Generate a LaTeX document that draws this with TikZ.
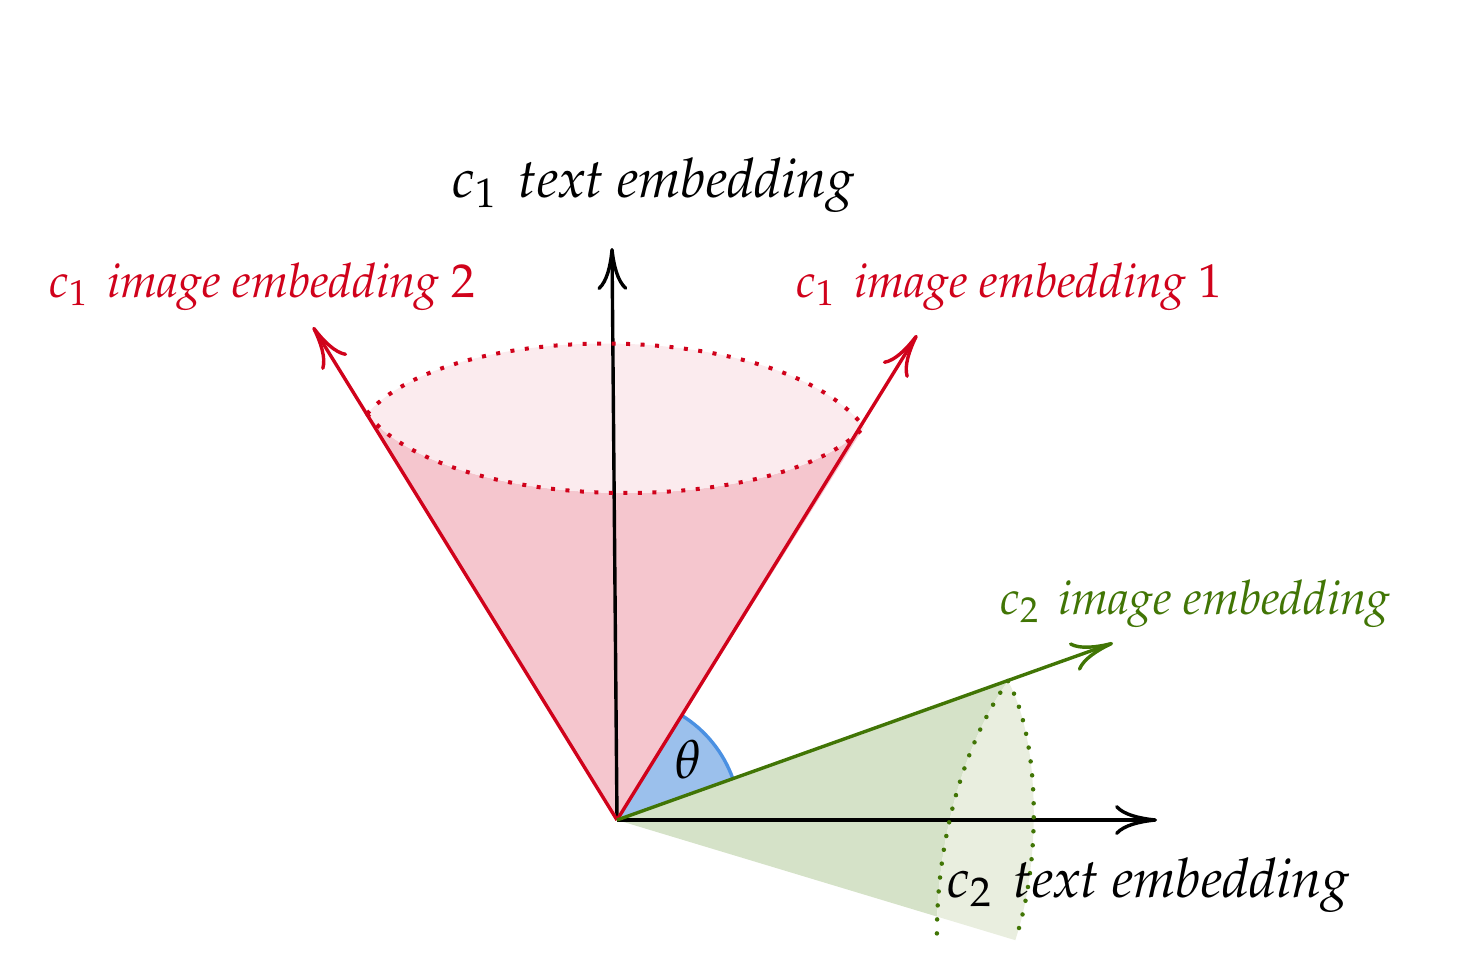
\documentclass[tikz,border=0pt]{standalone}
\usepackage[T1]{fontenc}
\usepackage{mathpazo}
\usetikzlibrary{arrows.meta}
\definecolor{cred}{HTML}{D0021B}
\definecolor{cpink}{HTML}{F5C6CE}
\definecolor{clpink}{HTML}{FBEBEE}
\definecolor{cgreen}{HTML}{417505}
\definecolor{cgfill}{HTML}{D5E2C8}
\definecolor{clgfill}{HTML}{E9EEDF}
\definecolor{cbfill}{HTML}{9BC0EC}
\definecolor{cbline}{HTML}{4A90E2}
\tikzset{
  axisline/.style={line width=3.4pt,-{Computer Modern Rightarrow[length=42pt,width=30pt]}},
  lbl/.style={inner sep=0pt,anchor=base,font=\fontsize{54.5}{60}\selectfont\itshape},
  clbl/.style={inner sep=0pt,anchor=base,font=\fontsize{47.5}{56}\selectfont\itshape},
  reddots/.style={cred,line width=4pt,dash pattern=on 4pt off 10.5pt},
  greendots/.style={cgreen,line width=4.5pt,line cap=round,dash pattern=on 0pt off 14pt},
}
\begin{document}
\begin{tikzpicture}[x=1pt,y=-1pt]
\useasboundingbox (0,0) rectangle (1463,979);
\coordinate (O) at (617,820);
\coordinate (T) at (612,248);
\coordinate (X) at (1157,820);
\coordinate (R1) at (917,335);
\coordinate (R2) at (313,327);
\coordinate (GT) at (1113,643);
\coordinate (L) at (367,414);
\coordinate (R) at (864,427);
\coordinate (G) at (1008,681);
\coordinate (GB) at (937,945);
\coordinate (GR) at (1015,941);
% pink cone
\fill[cpink] (O) -- (L) .. controls (450,517) and (780,517) .. (R) -- cycle;
\fill[clpink] (L) .. controls (450,318) and (780,318) .. (R) .. controls (780,517) and (450,517) .. (L) -- cycle;
% green cone
\begin{scope}
\clip (O) -- (1250,594) -- (1250,1011) -- cycle;
\fill[cgfill] (O) -- (G) .. controls (960,750) and (935,850) .. (GB) -- cycle;
\fill[clgfill] (G) .. controls (1040,740) and (1042,860) .. (GR) -- (1015,1000) -- (937,1000) -- (GB) .. controls (935,850) and (960,750) .. (G) -- cycle;
\end{scope}
% angle
\fill[cbfill] (O) -- ++(-19.64:123) arc[start angle=-19.64,end angle=-58.26,radius=123] -- cycle;
\draw[cbline,line width=3.4pt] (O) ++(-19.64:123) arc[start angle=-19.64,end angle=-58.26,radius=123];
\node[inner sep=0pt,font=\fontsize{54}{60}\selectfont] (th) at (688,760) {$\theta$};
% axes
\draw[axisline] (O) -- (T);
\draw[axisline] (O) -- (X);
\draw[axisline,cred] (O) -- (R1);
\draw[axisline,cred] (O) -- (R2);
\draw[axisline,cgreen] (O) -- (GT);
% dotted lens
\draw[reddots] (L) .. controls (450,318) and (780,318) .. (R);
\draw[reddots] (L) .. controls (450,517) and (780,517) .. (R);
\draw[greendots] (G) .. controls (960,750) and (935,850) .. (GB);
\draw[greendots] (G) .. controls (1040,740) and (1042,860) .. (GR);
% labels
\node[lbl] (lt) at (653,197) {$c_1$\, text embedding};
\node[clbl,cred] (l2) at (262,297) {$c_1$\, image embedding \upshape 2};
\node[clbl,cred] (l1) at (1009,297) {$c_1$\, image embedding \upshape 1};
\node[clbl,cgreen] (lg) at (1195,614) {$c_2$\, image embedding};
\node[lbl] (lx) at (1148,897) {$c_2$\, text embedding};
\end{tikzpicture}
\end{document}
